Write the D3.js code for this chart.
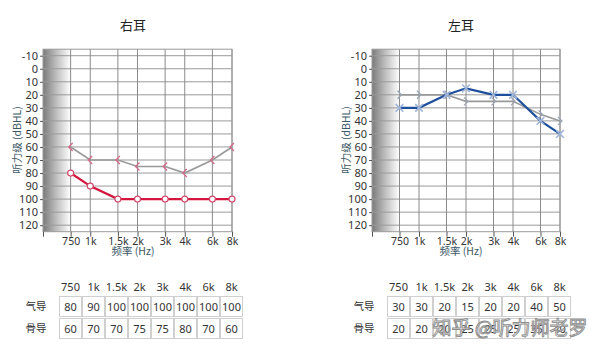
<!DOCTYPE html>
<html><head><meta charset="utf-8">
<script src="https://cdn.jsdelivr.net/npm/d3@7"></script>
<style>
body{margin:0;background:#fff;}
text{font-family:"Segoe UI","Noto Sans","Noto Sans CJK SC",sans-serif;}
</style></head>
<body><svg id="c" width="600" height="352"></svg>
<script>
const freqs = [750, 1000, 1500, 2000, 3000, 4000, 6000, 8000];
const freqLabels = ["750", "1k", "1.5k", "2k", "3k", "4k", "6k", "8k"];
const yTicks = [-10, 0, 10, 20, 30, 40, 50, 60, 70, 80, 90, 100, 110, 120];
const rightAir = [80, 90, 100, 100, 100, 100, 100, 100];
const rightBone = [60, 70, 70, 75, 75, 80, 70, 60];
const leftAir = [30, 30, 20, 15, 20, 20, 40, 50];
const leftBone = [20, 20, 20, 25, 25, 25, 35, 40];
const rowLabels = ["气导", "骨导"];
const titles = ["右耳", "左耳"];

const svg = d3.select("#c");
const defs = svg.append("defs");
const grad = defs.append("linearGradient").attr("id", "g").attr("x1", 0).attr("x2", 1).attr("y1", 0).attr("y2", 0);
grad.append("stop").attr("offset", "0%").attr("stop-color", "#7a7a7a");
grad.append("stop").attr("offset", "45%").attr("stop-color", "#bababa");
grad.append("stop").attr("offset", "100%").attr("stop-color", "#ffffff");

const CJK = '"Noto Sans CJK SC","Segoe UI","Noto Sans",sans-serif';

function panel(cfg) {
  const x = d3.scaleLog().domain([500, 8000]).range([cfg.x0, cfg.x1]);
  const y = d3.scaleLinear().domain([-15, 125]).range([49.2, 231.7]);
  const g = svg.append("g");
  g.append("text").attr("x", cfg.tx).attr("y", 30).attr("text-anchor", "middle")
    .style("font-family", CJK).style("font-size", "13px").attr("fill", "#222").text(cfg.title);
  g.append("rect").attr("x", x(500)).attr("y", y(-15)).attr("width", x(750) - x(500)).attr("height", y(125) - y(-15))
    .attr("fill", "url(#g)");
  g.selectAll(".hg").data(yTicks).join("line")
    .attr("x1", x(500)).attr("x2", x(8000)).attr("y1", d => y(d)).attr("y2", d => y(d))
    .attr("stroke", "#9a9a9a").attr("stroke-width", 1);
  g.selectAll(".vg").data(freqs).join("line")
    .attr("x1", d => x(d)).attr("x2", d => x(d)).attr("y1", y(-15)).attr("y2", y(125))
    .attr("stroke", "#8a8a8a").attr("stroke-width", 1);
  g.append("rect").attr("x", x(500)).attr("y", y(-15)).attr("width", x(8000) - x(500)).attr("height", y(125) - y(-15))
    .attr("fill", "none").attr("stroke", "#9a9a9a");
  const ya = d3.axisLeft(y).tickValues(yTicks).tickSize(3).tickPadding(2).tickFormat(d => d);
  const yg = g.append("g").attr("transform", `translate(${x(500)},0)`).call(ya);
  yg.select(".domain").remove();
  yg.selectAll("line").attr("stroke", "#555");
  yg.selectAll("text").style("font-size", "11px").attr("fill", "#333");
  const xa = d3.axisBottom(x).tickValues([500].concat(freqs)).tickSize(5).tickPadding(1)
    .tickFormat(d => { const i = freqs.indexOf(d); return i >= 0 ? freqLabels[i] : ""; });
  const xg = g.append("g").attr("transform", `translate(0,${y(125)})`).call(xa);
  xg.select(".domain").remove();
  xg.selectAll("line").attr("stroke", "#555");
  xg.selectAll("text").style("font-size", "10.5px").attr("fill", "#333");
  g.append("text").attr("x", cfg.tx).attr("y", 255).attr("text-anchor", "middle")
    .style("font-family", CJK).style("font-size", "10.5px").attr("fill", "#3b5866").text("频率 (Hz)");
  g.append("text").attr("transform", `translate(${cfg.ylx},140) rotate(-90)`).attr("text-anchor", "middle")
    .style("font-family", CJK).style("font-size", "10.5px").attr("fill", "#3b5866").text("听力级 (dBHL)");

  const line = d3.line().x((d, i) => x(freqs[i])).y(d => y(d));
  g.append("path").datum(cfg.bone).attr("d", line).attr("fill", "none").attr("stroke", "#999").attr("stroke-width", 1.6);
  g.append("path").datum(cfg.air).attr("d", line).attr("fill", "none").attr("stroke", cfg.airColor).attr("stroke-width", 2.2);
  const dir = cfg.right ? 1 : -1;
  g.selectAll(".bm").data(cfg.bone).join("path")
    .attr("d", (d, i) => { const cx = x(freqs[i]), cy = y(d); return `M${cx + 2 * dir},${cy - 4}L${cx - 2 * dir},${cy}L${cx + 2 * dir},${cy + 4}`; })
    .attr("fill", "none").attr("stroke", cfg.right ? "#d46a88" : "#9aa4b4").attr("stroke-width", 1.3);
  if (cfg.right) {
    g.selectAll(".am").data(cfg.air).join("circle")
      .attr("cx", (d, i) => x(freqs[i])).attr("cy", d => y(d)).attr("r", 3)
      .attr("fill", "#fff").attr("stroke", "#d44a6c").attr("stroke-width", 1.2);
  } else {
    g.selectAll(".am").data(cfg.air).join("path")
      .attr("d", (d, i) => { const cx = x(freqs[i]), cy = y(d), s = 3.8; return `M${cx - s},${cy - s}L${cx + s},${cy + s}M${cx - s},${cy + s}L${cx + s},${cy - s}`; })
      .attr("stroke", "#9fb6da").attr("stroke-width", 1.6).attr("fill", "none");
  }

  const cw = 23;
  const tx = d3.scaleBand().domain(freqLabels).range([cfg.tb, cfg.tb + cw * 8]);
  g.selectAll(".th").data(freqLabels).join("text")
    .attr("x", d => tx(d) + cw / 2).attr("y", 291).attr("text-anchor", "middle")
    .style("font-size", "11px").attr("fill", "#333").text(d => d);
  const rows = [cfg.air, cfg.bone];
  const rowY = [296, 318];
  rows.forEach((vals, r) => {
    g.append("text").attr("x", cfg.tb - 23).attr("y", rowY[r] + 14).attr("text-anchor", "middle")
      .style("font-family", CJK).style("font-size", "10.5px").attr("fill", "#333").text(rowLabels[r]);
    g.selectAll(".cell" + r).data(vals).join("rect")
      .attr("x", (d, i) => tx(freqLabels[i]) + 0.5).attr("y", rowY[r] + 0.5).attr("width", cw - 1).attr("height", 20)
      .attr("fill", "#fff").attr("stroke", "#cfcfcf");
    g.selectAll(".ct" + r).data(vals).join("text")
      .attr("x", (d, i) => tx(freqLabels[i]) + cw / 2).attr("y", rowY[r] + 14.5).attr("text-anchor", "middle")
      .style("font-size", "11px").attr("fill", "#333").text(d => d);
  });
}

panel({title: titles[0], x0: 43, x1: 232, tx: 133, ylx: 21, air: rightAir, bone: rightBone, airColor: "#d4163e", right: true, tb: 59});
panel({title: titles[1], x0: 372, x1: 560, tx: 461, ylx: 350, air: leftAir, bone: leftBone, airColor: "#1e4f9c", right: false, tb: 387});

svg.append("text").attr("x", 510).attr("y", 335).attr("text-anchor", "middle")
  .style("font-family", CJK).style("font-size", "19px")
  .attr("fill", "#fff").attr("fill-opacity", 0.7).attr("stroke", "#8d8d8d").attr("stroke-width", 0.9)
  .text("知乎 @听力师老罗");
</script></body></html>
